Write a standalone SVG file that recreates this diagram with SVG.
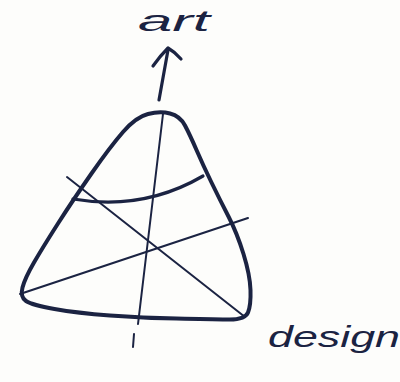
<svg xmlns="http://www.w3.org/2000/svg" width="400" height="382" viewBox="0 0 400 382">
<style>
.ink{fill:none;stroke:#1b2342;stroke-linecap:round;stroke-linejoin:round}
.thick{stroke-width:4}
.thin{stroke-width:2}
.mid{stroke-width:3.2}
.lbl{font-family:"Liberation Sans","DejaVu Sans",sans-serif;font-style:italic;font-size:30px;fill:#1b2342}
</style>
<rect width="400" height="382" fill="#fdfdfb"/>
<g id="triangle">
<path class="ink thick" d="M148,114 Q136,117 123,132 Q110,147 91.5,173.5 Q73,200 58,223.5 Q43,247 34,262.5 Q25,278 22.5,287.5 Q20,297 26,301 Q32,305 54.5,309 Q77,313 110,315.5 Q143,318 176.5,318.5 Q210,319 227.5,319.5 Q245,320 248,312.5 Q251,305 250.5,290 Q250,275 243.5,254 Q237,233 228.5,216.5 Q220,200 211.5,182.5 Q203,165 196.5,150 Q190,135 185,125.5 Q180,116 170,113.5 Q160,111 148,114 Z"/>
</g>
<g id="lines">
<path class="ink thin" d="M163,114 L138,324"/>
<path class="ink thin" d="M134,334 L133,347"/>
<path class="ink thin" d="M67,177 L245,317"/>
<path class="ink thin" d="M20,294 L248,218"/>
<path class="ink mid" d="M73,199 Q143,211 203,176"/>
</g>
<g id="arrow">
<path class="ink mid" d="M159,100 L168,50"/>
<path class="ink mid" d="M153,66 Q160,56 168,48 Q175,52 181,59"/>
</g>
<g id="labels">
<text class="lbl" x="138" y="31" textLength="72" lengthAdjust="spacingAndGlyphs">art</text>
<text class="lbl" x="268" y="347" textLength="132" lengthAdjust="spacingAndGlyphs">design</text>
</g>
</svg>
